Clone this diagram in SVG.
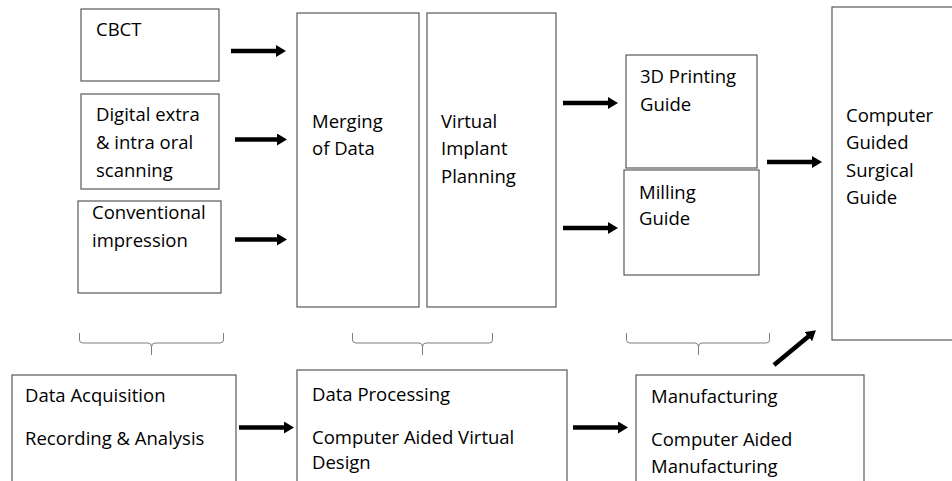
<svg xmlns="http://www.w3.org/2000/svg" width="952" height="481" viewBox="0 0 952 481">
<defs>
<marker id="ah" markerUnits="userSpaceOnUse" markerWidth="10" markerHeight="12" refX="1" refY="6" orient="auto">
<path d="M0,0 L10,6 L0,12 Z" fill="#000"/>
</marker>
<style>
.box{fill:#fff;stroke:#595959;stroke-width:1.2}
.t{font-family:"Open Sans","Liberation Sans",sans-serif;font-size:18.5px;fill:#000}
.ar{stroke:#000;stroke-width:4.5;fill:none;marker-end:url(#ah)}
.br{stroke:#7f7f7f;stroke-width:1;fill:none}
</style>
</defs>
<rect width="952" height="481" fill="#fff"/>
<g id="cbct"><rect class="box" x="81" y="9" width="138" height="72"/><text class="t" x="96" y="36">CBCT</text></g>
<g id="digital"><rect class="box" x="81" y="94" width="138" height="95"/><text class="t" x="96" y="121">Digital extra</text><text class="t" x="96" y="149">&amp; intra oral</text><text class="t" x="96" y="177">scanning</text></g>
<g id="conventional"><rect class="box" x="78" y="201" width="143" height="92"/><text class="t" x="92" y="219">Conventional</text><text class="t" x="92" y="247">impression</text></g>
<g id="merging"><rect class="box" x="297" y="13" width="122" height="294"/><text class="t" x="312" y="128">Merging</text><text class="t" x="312" y="155">of Data</text></g>
<g id="virtual"><rect class="box" x="427" y="13" width="129" height="294"/><text class="t" x="441" y="128">Virtual</text><text class="t" x="441" y="155">Implant</text><text class="t" x="441" y="183">Planning</text></g>
<g id="printing"><rect class="box" x="626" y="55" width="131" height="113"/><text class="t" x="640" y="83">3D Printing</text><text class="t" x="640" y="111">Guide</text></g>
<g id="milling"><rect class="box" x="624" y="170" width="135" height="105"/><text class="t" x="639" y="199">Milling</text><text class="t" x="639" y="225">Guide</text></g>
<g id="guided"><rect class="box" x="832" y="7" width="130" height="333"/><text class="t" x="846" y="122">Computer</text><text class="t" x="846" y="149">Guided</text><text class="t" x="846" y="177">Surgical</text><text class="t" x="846" y="204">Guide</text></g>
<g id="acquisition"><rect class="box" x="12" y="375" width="224" height="120"/><text class="t" x="25" y="402">Data Acquisition</text><text class="t" x="25" y="445">Recording &amp; Analysis</text></g>
<g id="processing"><rect class="box" x="297" y="370" width="270" height="125"/><text class="t" x="312" y="401">Data Processing</text><text class="t" x="312" y="444">Computer Aided Virtual</text><text class="t" x="312" y="469">Design</text></g>
<g id="manufacturing"><rect class="box" x="636" y="375" width="228" height="120"/><text class="t" x="651" y="403">Manufacturing</text><text class="t" x="651" y="446">Computer Aided</text><text class="t" x="651" y="473">Manufacturing</text></g>
<g id="braces">
<path class="br" d="M79.5,333 V340 Q79.5,343 83,343 H148 Q151.5,343 151.5,347 V355 M151.5,347 Q151.5,343 155,343 H220 Q223.5,343 223.5,340 V333"/>
<path class="br" d="M352.5,333 V340 Q352.5,343 356,343 H419 Q422.5,343 422.5,347 V355 M422.5,347 Q422.5,343 426,343 H489 Q492.5,343 492.5,340 V333"/>
<path class="br" d="M626.5,333 V340 Q626.5,343 630,343 H695 Q698.5,343 698.5,347 V355 M698.5,347 Q698.5,343 702,343 H766 Q769.5,343 769.5,340 V333"/>
</g>
<g id="connectors">
<line class="ar" x1="231" y1="51" x2="277" y2="51"/>
<line class="ar" x1="235" y1="139.5" x2="278" y2="139.5"/>
<line class="ar" x1="235" y1="239.5" x2="278" y2="239.5"/>
<line class="ar" x1="563" y1="103" x2="609" y2="103"/>
<line class="ar" x1="563" y1="228" x2="609" y2="228"/>
<line class="ar" x1="767" y1="162" x2="813" y2="162"/>
<line class="ar" x1="239" y1="427.5" x2="285" y2="427.5"/>
<line class="ar" x1="573" y1="427.5" x2="619" y2="427.5"/>
<line class="ar" x1="774" y1="365" x2="809" y2="336"/>
</g>
</svg>
